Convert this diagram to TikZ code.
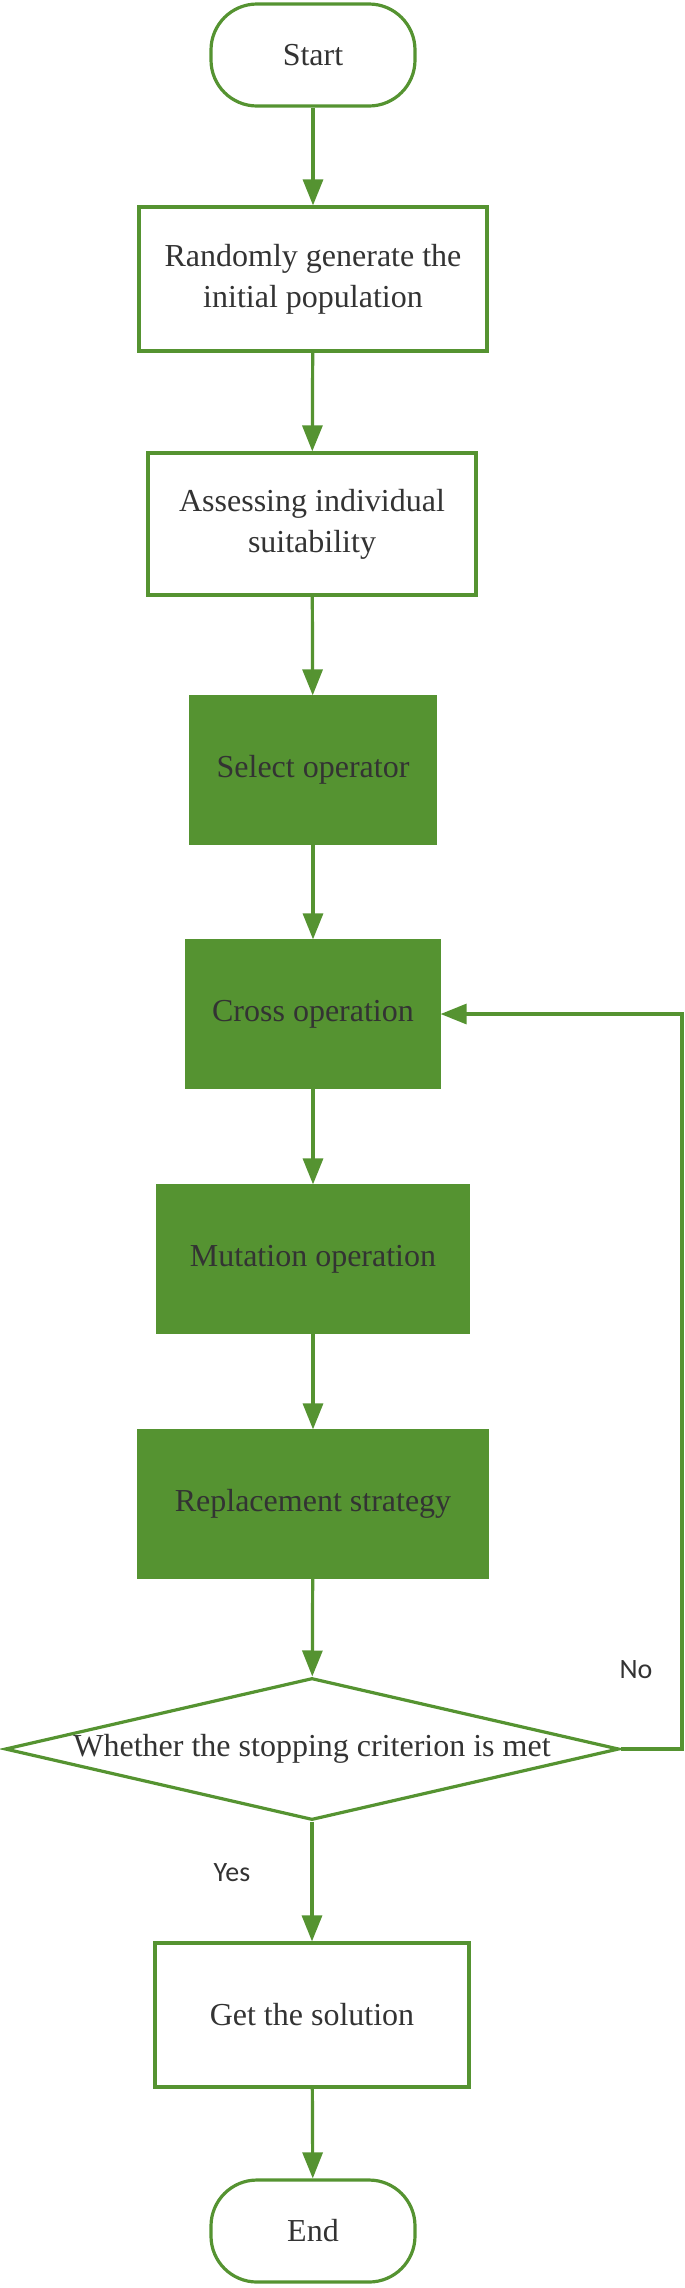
\documentclass[tikz,border=0pt]{standalone}
\usepackage{fontspec}
\setmainfont{Liberation Serif}
\newfontfamily\labfont{Carlito}
\usetikzlibrary{shapes.geometric,arrows.meta}
\definecolor{gr}{HTML}{559331}
\definecolor{tx}{HTML}{333333}
\tikzset{
  base/.style={draw=gr,line width=1.6pt,text=tx,font=\fontsize{16}{20.5}\selectfont,align=center,inner sep=2pt},
  term/.style={base,rectangle,rounded corners=23pt,minimum width=102pt,minimum height=51pt},
  wbox/.style={base,rectangle,fill=white},
  gbox/.style={base,rectangle,fill=gr,draw=gr},
  dec/.style={base,diamond,aspect=4.33,inner sep=0pt},
  conn/.style={draw=gr,line width=1.6pt,-{Triangle[length=13pt,width=10pt]}},
  lab/.style={font=\labfont\fontsize{14}{16}\selectfont,text=tx}
}
\begin{document}
\begin{tikzpicture}[x=0.5pt,y=-0.5pt]
\useasboundingbox (0,0) rectangle (685,2288);
\node[term] (start) at (313,55) {Start};
\node[wbox,minimum width=174pt,minimum height=72pt] (init) at (313,279) {Randomly generate the\\initial population};
\node[wbox,minimum width=164pt,minimum height=71pt] (assess) at (312,524) {Assessing individual\\suitability};
\node[gbox,minimum width=122pt,minimum height=73pt] (sel) at (313,770) {Select operator};
\node[gbox,minimum width=126pt,minimum height=73pt] (cross) at (313,1014) {Cross operation};
\node[gbox,minimum width=155pt,minimum height=73pt] (mut) at (313,1259) {Mutation operation};
\node[gbox,minimum width=174pt,minimum height=73pt] (rep) at (313,1504) {Replacement strategy};
\node[dec,minimum width=307pt,minimum height=71pt] (stop) at (312,1749) {Whether the stopping criterion is met};
\node[wbox,minimum width=157pt,minimum height=72pt] (get) at (312,2015) {Get the solution};
\node[term] (end) at (313,2231) {End};
\coordinate (c1) at (682,1749);
\coordinate (c2) at (682,1014);
\draw[conn] (start) -- (init);
\draw[conn] (init) -- (assess);
\draw[conn] (assess) -- (sel);
\draw[conn] (sel) -- (cross);
\draw[conn] (cross) -- (mut);
\draw[conn] (mut) -- (rep);
\draw[conn] (rep) -- (stop);
\draw[conn] (stop) -- (get);
\draw[conn] (get) -- (end);
\draw[conn] (stop.east) -- (c1) -- (c2) -- (cross.east);
\node[lab] (no) at (636,1670) {No};
\node[lab] (yes) at (232,1873) {Yes};
\end{tikzpicture}
\end{document}
